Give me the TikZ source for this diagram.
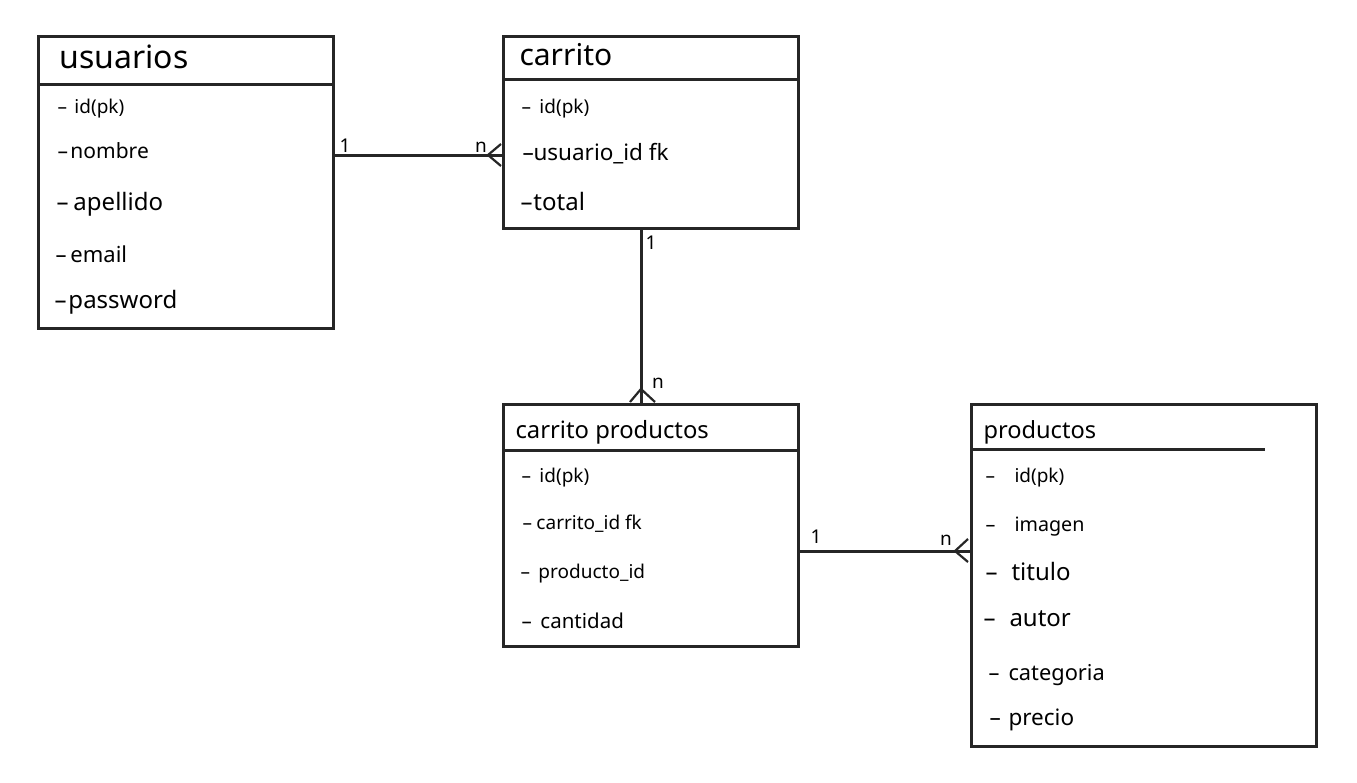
\documentclass[tikz,border=0pt]{standalone}
\usepackage{fontspec}
\setmainfont{Noto Sans}
\begin{document}
\begin{tikzpicture}[x=1pt,y=-1pt,line width=3pt,
  tbl/.style={draw=black!85,rectangle,inner sep=0pt,anchor=north west},
  lbl/.style={anchor=base west,inner sep=0pt},
  card/.style={inner sep=0pt,font=\fontsize{19}{19}\selectfont\bfseries},
  conn/.style={draw=black!85,line width=3pt},
  crow/.style={draw=black!85,line width=2.2pt,line join=round}]
\useasboundingbox (0,0) rectangle (1357,782);
\newcommand{\itm}[3]{\fontsize{#1}{#1}\selectfont\rlap{–}\hspace{#2pt}#3}
% tables
\node[tbl,minimum width=295pt,minimum height=292pt] (usuarios) at (37,35) {};
\node[tbl,minimum width=295pt,minimum height=192pt] (carrito) at (502,35) {};
\node[tbl,minimum width=295pt,minimum height=242pt] (cprod) at (502,403) {};
\node[tbl,minimum width=345pt,minimum height=342pt] (productos) at (970,403) {};
% header lines
\coordinate (h1) at (0,84);
\coordinate (h2) at (0,79);
\coordinate (h3) at (0,450);
\coordinate (h4) at (1265,449);
\draw[conn] (usuarios.west |- h1) -- (usuarios.east |- h1);
\draw[conn] (carrito.west |- h2) -- (carrito.east |- h2);
\draw[conn] (cprod.west |- h3) -- (cprod.east |- h3);
\draw[conn] (productos.west |- h4) -- (h4);
% titles
\node[lbl] (tu) at (58,68) {\fontsize{32}{32}\selectfont usuarios};
\node[lbl] (tc) at (518,65) {\fontsize{30}{30}\selectfont carrito};
\node[lbl] (tcp) at (514,438) {\fontsize{23.8}{24}\selectfont carrito productos};
\node[lbl] (tp) at (982,438) {\fontsize{23.6}{24}\selectfont productos};
% usuarios items
\node[lbl] (u1) at (56,113) {\itm{19}{17}{id(pk)}};
\node[lbl] (u2) at (56,158) {\itm{21}{13}{nombre}};
\node[lbl] (u3) at (55,210) {\itm{24}{17}{apellido}};
\node[lbl] (u4) at (54,262) {\itm{22}{15}{email}};
\node[lbl] (u5) at (53,308) {\itm{24}{14}{password}};
% carrito items
\node[lbl] (c1) at (520,113) {\itm{19}{18}{id(pk)}};
\node[lbl] (c2) at (521,160) {\itm{22.5}{11}{usuario\_id fk}};
\node[lbl] (c3) at (519,210) {\itm{24}{13}{total}};
% carrito productos items
\node[lbl] (p1) at (520,482) {\itm{19}{18}{id(pk)}};
\node[lbl] (p2) at (521,529) {\itm{19}{14}{carrito\_id fk}};
\node[lbl] (p3) at (519,578) {\itm{19}{18}{producto\_id}};
\node[lbl] (p4) at (520,628) {\itm{20.5}{19}{cantidad}};
% productos items
\node[lbl] (q1) at (984,482) {\itm{19}{29}{id(pk)}};
\node[lbl] (q2) at (984,531) {\itm{19.7}{29}{imagen}};
\node[lbl] (q3) at (984,580) {\itm{24}{26}{titulo}};
\node[lbl] (q4) at (982,626) {\itm{24}{26}{autor}};
\node[lbl] (q5) at (987,680) {\itm{21.8}{20}{categoria}};
\node[lbl] (q6) at (988,725) {\itm{22.5}{19}{precio}};
% connectors
\coordinate (r1) at (0,155);
\coordinate (r2) at (641,0);
\coordinate (r3) at (0,551);
\draw[conn] (usuarios.east |- r1) -- (carrito.west |- r1);
\draw[conn] (carrito.south -| r2) -- (cprod.north -| r2);
\draw[conn] (cprod.east |- r3) -- ([xshift=3pt]productos.west |- r3);
% crow's feet
\coordinate (f1a) at (501,144);
\coordinate (f1t) at (488,155);
\coordinate (f1b) at (501,166);
\draw[crow] (f1a) -- (f1t) -- (f1b);
\coordinate (f2a) at (630,402);
\coordinate (f2t) at (641,389);
\coordinate (f2b) at (655,402);
\draw[crow] (f2a) -- (f2t) -- (f2b);
\coordinate (f3a) at (968,539);
\coordinate (f3t) at (955,551);
\coordinate (f3b) at (968,562);
\draw[crow] (f3a) -- (f3t) -- (f3b);
% cardinalities
\node[card] (k1) at (345,146) {1};
\node[card] (k2) at (481,147) {n};
\node[card] (k3) at (651,243) {1};
\node[card] (k4) at (658,383) {n};
\node[card] (k5) at (816,537) {1};
\node[card] (k6) at (946,540) {n};
\end{tikzpicture}
\end{document}
